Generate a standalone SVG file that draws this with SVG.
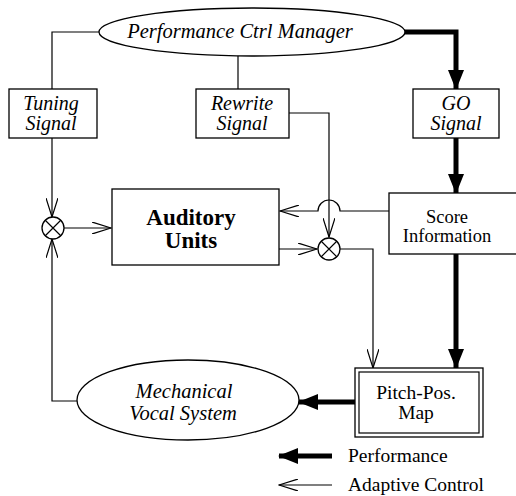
<svg xmlns="http://www.w3.org/2000/svg" width="516" height="496" viewBox="0 0 516 496">
<defs>
<style>
.box{fill:#fff;stroke:#000;stroke-width:1.3}
.thin{fill:none;stroke:#000;stroke-width:1.2}
.thick{fill:none;stroke:#000;stroke-width:5}
</style>
<marker id="open" viewBox="0 0 20 12" refX="19" refY="6" markerWidth="20" markerHeight="12" markerUnits="userSpaceOnUse" orient="auto">
<path d="M0,0 L19,6 L0,12" fill="none" stroke="#000" stroke-width="1.2"/>
</marker>
<marker id="fill" viewBox="0 0 20 16" refX="19" refY="8" markerWidth="20" markerHeight="16" markerUnits="userSpaceOnUse" orient="auto">
<path d="M0,0 L20,8 L0,16 Z" fill="#000"/>
</marker>
</defs>
<g id="connectors">
<polyline class="thin" points="99,32 52,32 52,89"/>
<line class="thin" x1="238" y1="56" x2="238" y2="89"/>
<polyline class="thick" points="404,32 456,32 456,89" marker-end="url(#fill)"/>
<polyline class="thin" points="289,113 329,113 329,237" marker-end="url(#open)"/>
<path class="thin" d="M389,211 L340,211 A11,11 0 0 0 318,211 L280,211" marker-end="url(#open)"/>
<line class="thin" x1="52" y1="138" x2="52" y2="217" marker-end="url(#open)"/>
<polyline class="thin" points="77,401 52,401 52,239" marker-end="url(#open)"/>
<line class="thin" x1="63" y1="228" x2="111" y2="228" marker-end="url(#open)"/>
<line class="thin" x1="279" y1="249" x2="317" y2="249" marker-end="url(#open)"/>
<polyline class="thin" points="340,249 373,249 373,368" marker-end="url(#open)"/>
<line class="thick" x1="456" y1="138" x2="456" y2="193" marker-end="url(#fill)"/>
<line class="thick" x1="456" y1="254" x2="456" y2="368" marker-end="url(#fill)"/>
<line class="thick" x1="355" y1="402" x2="299" y2="402" marker-end="url(#fill)"/>
</g>
<g font-family="Liberation Serif, serif" text-anchor="middle">
<g id="manager">
<ellipse class="box" cx="252" cy="32" rx="153" ry="24"/>
<text x="240" y="38" font-size="20.5" font-style="italic">Performance Ctrl  Manager</text>
</g>
<g id="tuning">
<rect class="box" x="9" y="89" width="88" height="49"/>
<text x="51" y="110" font-size="20" font-style="italic">Tuning</text>
<text x="51" y="130" font-size="20" font-style="italic">Signal</text>
</g>
<g id="rewrite">
<rect class="box" x="196" y="89" width="93" height="49"/>
<text x="242" y="110" font-size="20" font-style="italic">Rewrite</text>
<text x="242" y="130" font-size="20" font-style="italic">Signal</text>
</g>
<g id="go">
<rect class="box" x="413" y="89" width="86" height="49"/>
<text x="456" y="110" font-size="20" font-style="italic">GO</text>
<text x="456" y="130" font-size="20" font-style="italic">Signal</text>
</g>
<g id="sum-left">
<circle class="box" cx="53" cy="228" r="11"/>
<path class="thin" d="M45,220 L61,236 M61,220 L45,236"/>
</g>
<g id="sum-right">
<circle class="box" cx="329" cy="249" r="11"/>
<path class="thin" d="M321,241 L337,257 M337,241 L321,257"/>
</g>
<g id="auditory">
<rect class="box" x="112" y="189" width="167" height="76"/>
<text x="191" y="225" font-size="23" font-weight="bold">Auditory</text>
<text x="191" y="248" font-size="23" font-weight="bold">Units</text>
</g>
<g id="score">
<rect class="box" x="389" y="193" width="130" height="61"/>
<text x="447" y="223" font-size="18.5">Score</text>
<text x="447" y="242" font-size="18.5">Information</text>
</g>
<g id="pitch">
<rect class="box" x="355" y="368" width="128" height="69"/>
<rect class="thin" x="359" y="372" width="120" height="61"/>
<text x="416" y="399" font-size="19.5">Pitch-Pos.</text>
<text x="416" y="419" font-size="19.5">Map</text>
</g>
<g id="mechanical">
<ellipse class="box" cx="188" cy="400" rx="111" ry="40"/>
<text x="184" y="398" font-size="20.5" font-style="italic">Mechanical</text>
<text x="183" y="420" font-size="20.5" font-style="italic">Vocal System</text>
</g>
<g id="legend">
<line class="thick" x1="332" y1="456" x2="279" y2="456" marker-end="url(#fill)"/>
<line class="thin" x1="332" y1="485" x2="279" y2="485" marker-end="url(#open)"/>
<text x="348" y="462" font-size="19.5" text-anchor="start">Performance</text>
<text x="348" y="491" font-size="19.5" text-anchor="start">Adaptive Control</text>
</g>
</g>
</svg>
